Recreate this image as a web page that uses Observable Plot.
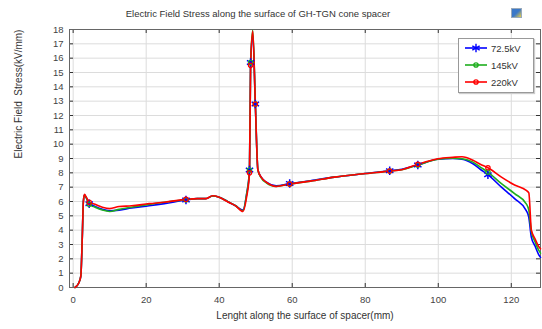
<!DOCTYPE html>
<html>
<head>
<meta charset="utf-8">
<script src="https://cdn.jsdelivr.net/npm/d3@7"></script>
<script src="https://cdn.jsdelivr.net/npm/@observablehq/plot@0.6"></script>
<style>
  html, body { margin: 0; padding: 0; background: #fff; }
  #wrap { position: relative; width: 542px; height: 329px; font-family: "Liberation Sans", Arial, sans-serif; }
  #legend { position: absolute; left: 458px; top: 38px; width: 74px; height: 53px; border: 1px solid #999; background: #fff; box-shadow: 1px 1px 1px #ccc; }
  #legend .row { position: absolute; left: 5px; height: 14px; display: flex; align-items: center; font-size: 9.5px; color: #333; }
  #legend svg { margin-right: 3px; }
  #icon { position: absolute; left: 511px; top: 8px; width: 9px; height: 8px; background: linear-gradient(135deg, #3a78c8 0%, #3a78c8 50%, #f0d040 100%); border: 1px solid #9ab; }
</style>
</head>
<body>
<div id="wrap"><div id="icon"></div></div>
<script>
// ---- data ----
const seriesNames = ["72.5kV", "145kV", "220kV"];
const seriesColors = ["#0000ff", "#1fae1f", "#ff0000"];
const xs = [0.5, 1.5, 2.1, 2.5, 2.8, 3.1, 3.6, 4.4, 6, 8, 10, 12.6, 16, 20.8, 25, 30.9, 34, 36.3, 38.2, 40, 42.3, 44.5, 46.5, 47.5, 48.3, 48.6, 49.2, 49.9, 50.6, 51.5, 52.9, 55.6, 59.3, 65, 71.6, 80, 86.7, 90, 94.4, 99.9, 104, 106.5, 109.5, 111.5, 113.6, 117.3, 120.9, 124.1, 124.8, 125.5, 126.5, 127.5, 128];
const blueY  = [0, 0.3, 0.8, 3.5, 6.0, 6.45, 6.25, 5.85, 5.65, 5.45, 5.35, 5.4, 5.55, 5.7, 5.85, 6.1, 6.2, 6.2, 6.38, 6.3, 6.0, 5.7, 5.4, 6.5, 8.2, 15.7, 17.6, 12.8, 8.2, 7.7, 7.35, 7.1, 7.25, 7.45, 7.7, 7.95, 8.15, 8.25, 8.55, 8.95, 9.0, 8.95, 8.63, 8.25, 7.87, 7.0, 6.2, 5.37, 4.9, 3.5, 2.9, 2.3, 2.1];
const greenY = [0, 0.3, 0.8, 3.5, 6.0, 6.45, 6.25, 5.8, 5.6, 5.4, 5.3, 5.45, 5.6, 5.8, 5.95, 6.12, 6.2, 6.2, 6.38, 6.3, 6.0, 5.7, 5.35, 6.5, 8.2, 15.7, 17.95, 12.8, 8.2, 7.65, 7.3, 7.05, 7.22, 7.42, 7.7, 7.95, 8.12, 8.22, 8.55, 8.95, 9.02, 8.98, 8.75, 8.4, 8.05, 7.24, 6.55, 5.84, 5.4, 3.9, 3.2, 2.6, 2.4];
const redY   = [0, 0.3, 0.8, 3.5, 6.0, 6.5, 6.3, 5.95, 5.8, 5.6, 5.5, 5.65, 5.7, 5.85, 5.95, 6.15, 6.2, 6.2, 6.4, 6.3, 5.98, 5.7, 5.3, 6.3, 8.0, 15.5, 17.9, 12.8, 8.2, 7.7, 7.35, 7.05, 7.22, 7.42, 7.7, 7.95, 8.12, 8.22, 8.6, 8.98, 9.08, 9.12, 8.88, 8.6, 8.35, 7.7, 7.15, 6.77, 6.6, 4.0, 3.4, 2.86, 2.7];
const markerX = [4.4, 30.9, 48.3, 48.6, 49.9, 59.3, 86.7, 94.4, 113.6];
const xTicks = [0, 20, 40, 60, 80, 100, 120];
const yTicks = [0, 1, 2, 3, 4, 5, 6, 7, 8, 9, 10, 11, 12, 13, 14, 15, 16, 17, 18];
const titleText = "Electric Field Stress along the surface of GH-TGN cone spacer";
const xLabel = "Lenght along the surface of spacer(mm)";
const yLabel = "Electric Field  Stress(kV/mm)";

// ---- build table ----
const ySets = [blueY, greenY, redY];
const rows = [];
seriesNames.forEach((s, k) => xs.forEach((x, i) => rows.push({s, x, y: ySets[k][i]})));
const marks = rows.filter(d => markerX.includes(d.x));

const W = 542, H = 329, mT = 29, mB = 42, mL = 69, mR = 2;
const plotW = W - mL - mR, plotH = H - mT - mB;

const chart = Plot.plot({
  width: W, height: H,
  marginTop: mT, marginBottom: mB, marginLeft: mL, marginRight: mR,
  style: {fontFamily: "Liberation Sans, Arial, sans-serif", background: "#fff"},
  x: {domain: [-1, 128]},
  y: {domain: [0, 18]},
  color: {domain: seriesNames, range: seriesColors},
  marks: [
    Plot.gridX(xTicks, {stroke: "#dcdcdc", strokeOpacity: 1}),
    Plot.gridY(yTicks, {stroke: "#dcdcdc", strokeOpacity: 1}),
    Plot.tickX(xTicks, {x: d => d, insetTop: plotH - 4, stroke: "#333"}),
    Plot.tickX(xTicks, {x: d => d, insetBottom: plotH - 4, stroke: "#333"}),
    Plot.tickY(yTicks, {y: d => d, insetRight: plotW - 4, stroke: "#333"}),
    Plot.tickY(yTicks, {y: d => d, insetLeft: plotW - 4, stroke: "#333"}),
    Plot.frame({stroke: "#666"}),
    Plot.axisX(xTicks, {tickSize: 0, tickPadding: 9, fontSize: 9.5, fill: "#444", label: null}),
    Plot.axisY(yTicks, {tickSize: 0, tickPadding: 6, fontSize: 9.5, fill: "#444", label: null}),
    Plot.line(rows, {x: "x", y: "y", z: "s", stroke: "s", strokeWidth: 1.6, curve: "monotone-x"}),
    Plot.dot(marks.filter(d => d.s === seriesNames[0]), {x: "x", y: "y", symbol: "asterisk", r: 4, stroke: seriesColors[0], strokeWidth: 1.5}),
    Plot.dot(marks.filter(d => d.s === seriesNames[1]), {x: "x", y: "y", symbol: "circle", r: 2.2, stroke: seriesColors[1], strokeWidth: 1.2}),
    Plot.dot(marks.filter(d => d.s === seriesNames[2]), {x: "x", y: "y", symbol: "circle", r: 2.2, stroke: seriesColors[2], strokeWidth: 1.2}),
    Plot.text([titleText], {frameAnchor: "top", dy: -19, dx: -47, fontSize: 9.5, fill: "#333"}),
    Plot.text([xLabel], {frameAnchor: "bottom", dy: 31, fontSize: 10, fill: "#333"}),
    Plot.text([yLabel], {frameAnchor: "left", dx: -51, rotate: -90, fontSize: 10, fill: "#333"})
  ]
});
document.getElementById("wrap").appendChild(chart);

// ---- legend ----
const legend = document.createElement("div");
legend.id = "legend";
const symbols = ["asterisk", "circle", "circle"];
seriesNames.forEach((name, k) => {
  const row = document.createElement("div");
  row.className = "row";
  row.style.top = (2 + k * 17) + "px";
  const svg = d3.create("svg").attr("width", 24).attr("height", 12);
  svg.append("line").attr("x1", 1).attr("x2", 23).attr("y1", 6).attr("y2", 6).attr("stroke", seriesColors[k]).attr("stroke-width", 1.6);
  const sym = symbols[k] === "asterisk" ? d3.symbolAsterisk : d3.symbolCircle;
  svg.append("path").attr("d", d3.symbol(sym, symbols[k] === "asterisk" ? 50 : 14)())
    .attr("transform", "translate(12,6)").attr("fill", "none").attr("stroke", seriesColors[k]).attr("stroke-width", 1.4);
  row.appendChild(svg.node());
  const t = document.createElement("span");
  t.textContent = name;
  row.appendChild(t);
  legend.appendChild(row);
});
document.getElementById("wrap").appendChild(legend);
</script>
</body>
</html>
